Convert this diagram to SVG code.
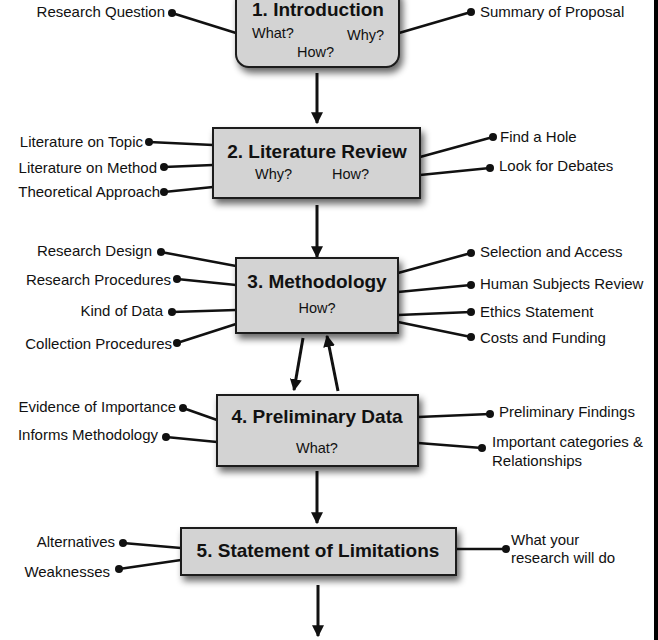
<svg xmlns="http://www.w3.org/2000/svg" width="658" height="640" viewBox="0 0 658 640">
<style>
.box{fill:#d3d3d3;stroke:#1a1a1a;stroke-width:2;filter:url(#sh)}
.t{font-family:"Liberation Sans",Arial,sans-serif;font-weight:bold;font-size:19px;fill:#111;text-anchor:middle}
.s{font-family:"Liberation Sans",Arial,sans-serif;font-size:14.5px;fill:#111}
.l{font-family:"Liberation Sans",Arial,sans-serif;font-size:15px;fill:#111}
.e{text-anchor:end}
.c{text-anchor:middle}
.ln{stroke:#111;stroke-width:2.5;fill:none}
.ar{stroke:#111;stroke-width:3;fill:none;marker-end:url(#ah)}
.d{fill:#111}
</style>
<defs>
<filter id="sh" x="-10%" y="-20%" width="130%" height="150%">
<feGaussianBlur in="SourceAlpha" stdDeviation="3.5"/>
<feOffset dx="3" dy="5" result="b"/>
<feComponentTransfer><feFuncA type="linear" slope="0.6"/></feComponentTransfer>
<feMerge><feMergeNode/><feMergeNode in="SourceGraphic"/></feMerge>
</filter>
<marker id="ah" viewBox="0 0 10 10" refX="9" refY="5" markerWidth="4" markerHeight="4.4" orient="auto" markerUnits="strokeWidth">
<path d="M0,0 L10,5 L0,10 Z" fill="#111"/>
</marker>
</defs>
<rect width="658" height="640" fill="#fff"/>
<rect x="654" y="0" width="4" height="640" fill="#000"/>

<g id="connectors">
<line class="ar" x1="317" y1="73" x2="317" y2="123"/>
<line class="ar" x1="317" y1="205" x2="317" y2="257"/>
<line class="ar" x1="303" y1="338" x2="294" y2="390"/>
<line class="ar" x1="338" y1="391" x2="327" y2="336"/>
<line class="ar" x1="317" y1="471" x2="317" y2="523"/>
<line class="ar" x1="318" y1="585" x2="318" y2="636"/>

<line class="ln" x1="172" y1="13" x2="236" y2="33"/>
<line class="ln" x1="471" y1="12" x2="399" y2="33"/>

<line class="ln" x1="149" y1="142" x2="213" y2="145"/>
<line class="ln" x1="164" y1="167" x2="213" y2="165"/>
<line class="ln" x1="164" y1="192" x2="213" y2="187"/>
<line class="ln" x1="493" y1="137" x2="420" y2="157"/>
<line class="ln" x1="490" y1="168" x2="420" y2="175"/>

<line class="ln" x1="161" y1="252" x2="236" y2="266"/>
<line class="ln" x1="177" y1="279" x2="236" y2="285"/>
<line class="ln" x1="172" y1="312" x2="236" y2="310"/>
<line class="ln" x1="177" y1="343" x2="236" y2="324"/>
<line class="ln" x1="471" y1="253" x2="398" y2="273"/>
<line class="ln" x1="471" y1="285" x2="398" y2="292"/>
<line class="ln" x1="471" y1="312" x2="398" y2="315"/>
<line class="ln" x1="471" y1="337" x2="398" y2="322"/>

<line class="ln" x1="183" y1="408" x2="217" y2="420"/>
<line class="ln" x1="166" y1="437" x2="217" y2="442"/>
<line class="ln" x1="490" y1="414" x2="418" y2="417"/>
<line class="ln" x1="482" y1="448" x2="418" y2="443"/>

<line class="ln" x1="123" y1="543" x2="181" y2="548"/>
<line class="ln" x1="119" y1="569" x2="181" y2="560"/>
<line class="ln" x1="506" y1="549" x2="456" y2="549"/>

<g class="d">
<circle cx="172" cy="13" r="4"/><circle cx="471" cy="12" r="4"/>
<circle cx="149" cy="142" r="4"/><circle cx="164" cy="167" r="4"/><circle cx="164" cy="192" r="4"/>
<circle cx="493" cy="137" r="4"/><circle cx="490" cy="168" r="4"/>
<circle cx="161" cy="252" r="4"/><circle cx="177" cy="279" r="4"/><circle cx="172" cy="312" r="4"/><circle cx="177" cy="343" r="4"/>
<circle cx="471" cy="253" r="4"/><circle cx="471" cy="285" r="4"/><circle cx="471" cy="312" r="4"/><circle cx="471" cy="337" r="4"/>
<circle cx="183" cy="408" r="4"/><circle cx="166" cy="437" r="4"/>
<circle cx="490" cy="414" r="4"/><circle cx="482" cy="448" r="4"/>
<circle cx="123" cy="543" r="4"/><circle cx="119" cy="569" r="4"/>
<circle cx="506" cy="549" r="4"/>
</g>
</g>

<g id="n1">
<rect class="box" x="236" y="-14" width="163" height="81" rx="13"/>
<text class="t" x="318" y="16">1. Introduction</text>
<text class="s" x="252" y="38">What?</text>
<text class="s" x="347" y="40">Why?</text>
<text class="s" x="297" y="57">How?</text>
</g>
<g id="n2">
<rect class="box" x="213" y="128" width="207" height="70"/>
<text class="t" x="317" y="158">2. Literature Review</text>
<text class="s" x="255" y="179">Why?</text>
<text class="s" x="332" y="179">How?</text>
</g>
<g id="n3">
<rect class="box" x="236" y="258" width="162" height="75"/>
<text class="t" x="317" y="288">3. Methodology</text>
<text class="s c" x="317" y="313">How?</text>
</g>
<g id="n4">
<rect class="box" x="217" y="395" width="201" height="71"/>
<text class="t" x="317" y="423">4. Preliminary Data</text>
<text class="s c" x="317" y="453">What?</text>
</g>
<g id="n5">
<rect class="box" x="181" y="528" width="275" height="47"/>
<text class="t" x="318" y="557">5. Statement of Limitations</text>
</g>

<g id="labels">
<text class="l e" x="165" y="17">Research Question</text>
<text class="l" x="480" y="17">Summary of Proposal</text>
<text class="l e" x="143" y="147">Literature on Topic</text>
<text class="l e" x="157" y="173">Literature on Method</text>
<text class="l e" x="160" y="197">Theoretical Approach</text>
<text class="l" x="500" y="142">Find a Hole</text>
<text class="l" x="499" y="171">Look for Debates</text>
<text class="l e" x="152" y="256">Research Design</text>
<text class="l e" x="171" y="285">Research Procedures</text>
<text class="l e" x="163" y="316">Kind of Data</text>
<text class="l e" x="172" y="349">Collection Procedures</text>
<text class="l" x="480" y="257">Selection and Access</text>
<text class="l" x="480" y="289">Human Subjects Review</text>
<text class="l" x="480" y="317">Ethics Statement</text>
<text class="l" x="480" y="343">Costs and Funding</text>
<text class="l e" x="176" y="412">Evidence of Importance</text>
<text class="l e" x="158" y="440">Informs Methodology</text>
<text class="l" x="499" y="417">Preliminary Findings</text>
<text class="l" x="492" y="447">Important categories &amp;</text>
<text class="l" x="492" y="466">Relationships</text>
<text class="l e" x="115" y="547">Alternatives</text>
<text class="l e" x="110" y="577">Weaknesses</text>
<text class="l" x="511" y="545">What your</text>
<text class="l" x="511" y="563">research will do</text>
</g>
</svg>
